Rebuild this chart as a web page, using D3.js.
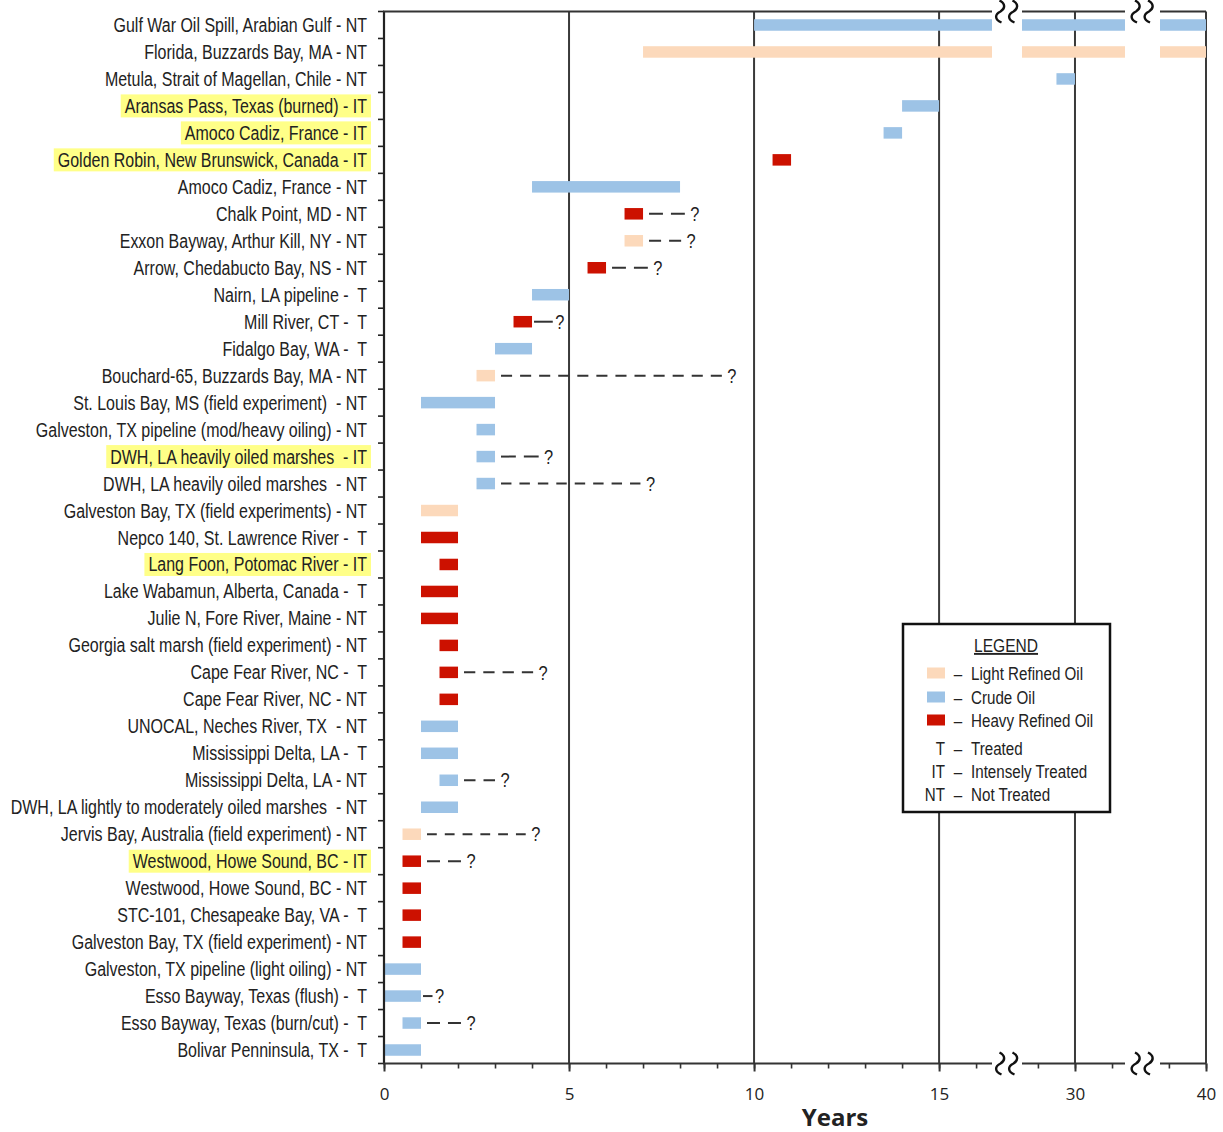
<!DOCTYPE html>
<html><head><meta charset="utf-8">
<script src="https://cdn.jsdelivr.net/npm/d3@7/dist/d3.min.js"></script>
<style>
html,body{margin:0;padding:0;background:#fff;}
svg{display:block;}
.lbl{font-family:"Liberation Sans Narrow","Liberation Sans",Arial,sans-serif;fill:#222;white-space:pre;}
.tick text{font-family:"Open Sans","Noto Sans",sans-serif;}
</style></head>
<body>
<svg id="chart" width="1223" height="1132"></svg>
<script>
// ---------------- DATA ----------------
const labels = [
 "Gulf War Oil Spill, Arabian Gulf - NT",
 "Florida, Buzzards Bay, MA - NT",
 "Metula, Strait of Magellan, Chile - NT",
 "Aransas Pass, Texas (burned) - IT",
 "Amoco Cadiz, France - IT",
 "Golden Robin, New Brunswick, Canada - IT",
 "Amoco Cadiz, France - NT",
 "Chalk Point, MD - NT",
 "Exxon Bayway, Arthur Kill, NY - NT",
 "Arrow, Chedabucto Bay, NS - NT",
 "Nairn, LA pipeline -  T",
 "Mill River, CT -  T",
 "Fidalgo Bay, WA -  T",
 "Bouchard-65, Buzzards Bay, MA - NT",
 "St. Louis Bay, MS (field experiment)  - NT",
 "Galveston, TX pipeline (mod/heavy oiling) - NT",
 "DWH, LA heavily oiled marshes  - IT",
 "DWH, LA heavily oiled marshes  - NT",
 "Galveston Bay, TX (field experiments) - NT",
 "Nepco 140, St. Lawrence River -  T",
 "Lang Foon, Potomac River - IT",
 "Lake Wabamun, Alberta, Canada -  T",
 "Julie N, Fore River, Maine - NT",
 "Georgia salt marsh (field experiment) - NT",
 "Cape Fear River, NC -  T",
 "Cape Fear River, NC - NT",
 "UNOCAL, Neches River, TX  - NT",
 "Mississippi Delta, LA -  T",
 "Mississippi Delta, LA - NT",
 "DWH, LA lightly to moderately oiled marshes  - NT",
 "Jervis Bay, Australia (field experiment) - NT",
 "Westwood, Howe Sound, BC - IT",
 "Westwood, Howe Sound, BC - NT",
 "STC-101, Chesapeake Bay, VA -  T",
 "Galveston Bay, TX (field experiment) - NT",
 "Galveston, TX pipeline (light oiling) - NT",
 "Esso Bayway, Texas (flush) -  T",
 "Esso Bayway, Texas (burn/cut) -  T",
 "Bolivar Penninsula, TX -  T"
];
const treatment = ["NT","NT","NT","IT","IT","IT","NT","NT","NT","NT","T","T","T","NT","NT","NT","IT","NT","NT","T","IT","T","NT","NT","T","NT","NT","T","NT","NT","NT","IT","NT","T","NT","NT","T","T","T"];
// L = light refined, C = crude, H = heavy refined
const oilType = ["C","L","C","C","C","H","C","H","L","H","C","H","C","L","C","C","C","C","L","H","H","H","H","H","H","H","C","C","C","C","L","H","H","H","H","C","C","C","C"];
const startYr = [10,7,29.5,14,13.5,10.5,4,6.5,6.5,5.5,4,3.5,3,2.5,1,2.5,2.5,2.5,1,1,1.5,1,1,1.5,1.5,1.5,1,1,1.5,1,0.5,0.5,0.5,0.5,0.5,0,0,0.5,0];
const endYr   = [40,40,30,15,14,11,8,7,7,6,5,4,4,3,3,3,3,3,2,2,2,2,2,2,2,2,2,2,2,2,1,1,1,1,1,1,1,1,1];
// year at which the "?" of an uncertain (dashed) extension sits; null = none
const uncertainAt = [null,null,null,null,null,null,null,8.4,8.3,7.4,null,4.75,null,9.4,null,null,4.45,7.2,null,null,null,null,null,null,4.3,null,null,null,3.27,null,4.1,2.35,null,null,null,null,1.5,2.35,null];
const majorTicks = [0,5,10,15,30,40];
const minorTicks = [0,1,2,3,4,5,6,7,8,9,10,11,12,13,14,15,16,29,30,31,39,40];
const gridYears = [5,10,15,30,40];
const legendOil = [{k:"L",t:"Light Refined Oil"},{k:"C",t:"Crude Oil"},{k:"H",t:"Heavy Refined Oil"}];
const legendTreat = [{k:"T",t:"Treated"},{k:"IT",t:"Intensely Treated"},{k:"NT",t:"Not Treated"}];
const oilColor = {L:"#fcd9bb", C:"#9dc3e6", H:"#cc1100"};

// ---------------- LAYOUT ----------------
const svg = d3.select("#chart");
const yTop = 11.5, yBot = 1063.5, xLeft = 384, xRight = 1206;
const SX = 0.82; // horizontal condensing of the narrow label font
// broken axis: three visible segments with equal year spacing
const segs = [[0,16.43],[28.57,31.35],[38.76,40]];
const x = d3.scaleLinear()
  .domain([0,16.43,28.57,31.35,38.76,40])
  .range([xLeft,992,1022,1125,1160,xRight]);
const y = d3.scaleBand().domain(d3.range(labels.length)).range([yTop,yBot]);
const yc = i => y(i) + y.bandwidth()/2;

// narrow text helper
function ntext(parent, tx, ty, str, anchor, size){
  const g = parent.append("g").attr("transform",`translate(${tx},${ty}) scale(${SX},1)`);
  const t = g.append("text").attr("class","lbl").attr("x",0).attr("y",0).attr("dy","0.36em")
    .attr("text-anchor",anchor).attr("font-size",size).text(str);
  return t;
}

// clip for broken segments
const defs = svg.append("defs");
const clip = defs.append("clipPath").attr("id","segclip");
segs.forEach(s=>clip.append("rect").attr("x",x(s[0])).attr("y",0).attr("width",x(s[1])-x(s[0])).attr("height",1132));

// labels with highlight
const hlG = svg.append("g");
const lblG = svg.append("g");
labels.forEach((l,i)=>{
  const t = ntext(lblG, 367, yc(i), l, "end", 19.5);
  if(treatment[i]==="IT"){
    const w = t.node().getComputedTextLength()*SX;
    const x0 = 367 - w - 4;
    hlG.append("rect").attr("x",x0).attr("y",yc(i)-11.5).attr("width",371-x0).attr("height",23).attr("fill","#ffff88");
  }
});

// vertical grid lines
svg.append("g").selectAll("line").data(gridYears).join("line")
  .attr("x1",d=>x(d)).attr("x2",d=>x(d)).attr("y1",yTop).attr("y2",yBot)
  .attr("stroke","#3a3a3a").attr("stroke-width",2);

// bars
const barH = 11.5;
svg.append("g").attr("clip-path","url(#segclip)").selectAll("rect").data(d3.range(labels.length)).join("rect")
  .attr("x",i=>x(startYr[i])).attr("width",i=>x(endYr[i])-x(startYr[i]))
  .attr("y",i=>yc(i)-barH/2).attr("height",barH).attr("fill",i=>oilColor[oilType[i]]);

// uncertain extensions: whole dashes (constant gap) fitted between bar end and "?"
const GAP = 8;
function dashFit(L){
  const n = Math.max(1, Math.round((L+GAP)/19));
  if(n===1) return "none";
  const dash = (L - GAP*(n-1))/n;
  return `${dash.toFixed(2)},${GAP}`;
}
const unc = d3.range(labels.length).filter(i=>uncertainAt[i]!==null);
const uG = svg.append("g");
const isShort = i => (x(uncertainAt[i]) - x(endYr[i])) < 28;
const dStart = i => x(endYr[i]) + (isShort(i) ? 2 : 6);
const dEnd = i => x(uncertainAt[i]) - (isShort(i) ? 7 : 10);
uG.selectAll("line").data(unc).join("line")
  .attr("x1",dStart).attr("x2",dEnd)
  .attr("y1",i=>yc(i)).attr("y2",i=>yc(i))
  .attr("stroke","#333").attr("stroke-width",2)
  .attr("stroke-dasharray",i=>dashFit(dEnd(i)-dStart(i)));
unc.forEach(i=>ntext(uG, x(uncertainAt[i]), yc(i), "?", "middle", 20));

// left axis line and ticks at row boundaries
svg.append("line").attr("x1",xLeft).attr("x2",xLeft).attr("y1",yTop).attr("y2",yBot).attr("stroke","#222").attr("stroke-width",2.2);
svg.append("g").selectAll("line").data(d3.range(labels.length+1)).join("line")
  .attr("x1",xLeft-6).attr("x2",xLeft).attr("y1",i=>yTop+i*y.step()).attr("y2",i=>yTop+i*y.step())
  .attr("stroke","#222").attr("stroke-width",1.6);

// top and bottom frame lines (broken)
[yTop,yBot].forEach(yy=>{
  svg.append("g").selectAll("line").data(segs).join("line")
    .attr("x1",s=>x(s[0])-(s[0]===0?1:0)).attr("x2",s=>x(s[1])).attr("y1",yy).attr("y2",yy)
    .attr("stroke","#333").attr("stroke-width",2);
});

// bottom axis ticks
const axMinor = d3.axisBottom(x).tickValues(minorTicks).tickSize(5).tickFormat("");
const axMajor = d3.axisBottom(x).tickValues(majorTicks).tickSize(8).tickPadding(16).tickFormat(d3.format("d"));
svg.append("g").attr("transform",`translate(0,${yBot})`).call(axMinor)
  .call(g=>g.select(".domain").remove()).call(g=>g.selectAll(".tick line").attr("stroke","#333").attr("stroke-width",1.6));
svg.append("g").attr("transform",`translate(0,${yBot})`).call(axMajor)
  .call(g=>g.select(".domain").remove())
  .call(g=>g.selectAll(".tick line").attr("stroke","#333").attr("stroke-width",2))
  .call(g=>g.selectAll(".tick text").attr("font-size",17).attr("fill","#222"));

// break symbols
function squiggle(cx, cy){
  const h = 22, t = cy - h/2;
  return `M${cx-1},${t} c6,3 6,8 1,11 c-6,3 -6,8 1,11`;
}
const breaks = [(x(16.43)+x(28.57))/2, (x(31.35)+x(38.76))/2];
[yTop,yBot].forEach(yy=>{
  breaks.forEach(bx=>{
    [bx-6.5,bx+6.5].forEach(sx=>{
      svg.append("path").attr("d",squiggle(sx,yy)).attr("fill","none").attr("stroke","#111").attr("stroke-width",2.4);
    });
  });
});

// axis title
svg.append("text").attr("x",835).attr("y",1126).attr("text-anchor","middle")
  .attr("font-family","'Open Sans','Noto Sans',sans-serif").attr("font-weight","bold").attr("font-size",24).attr("fill","#222").text("Years");

// legend
const lg = svg.append("g");
lg.append("rect").attr("x",903).attr("y",624).attr("width",207).attr("height",188).attr("fill","#fff").attr("stroke","#111").attr("stroke-width",2.5);
ntext(lg, 1006, 645, "LEGEND", "middle", 19).attr("text-decoration","underline");
const oilY = [673,697,720], trY = [748,771,794];
legendOil.forEach((d,i)=>{
  lg.append("rect").attr("x",927).attr("y",oilY[i]-5.5).attr("width",18).attr("height",11).attr("fill",oilColor[d.k]);
  ntext(lg, 958, oilY[i], "–", "middle", 18.5);
  ntext(lg, 971, oilY[i], d.t, "start", 18.5);
});
legendTreat.forEach((d,i)=>{
  ntext(lg, 945, trY[i], d.k, "end", 18.5);
  ntext(lg, 958, trY[i], "–", "middle", 18.5);
  ntext(lg, 971, trY[i], d.t, "start", 18.5);
});
</script>
</body></html>
